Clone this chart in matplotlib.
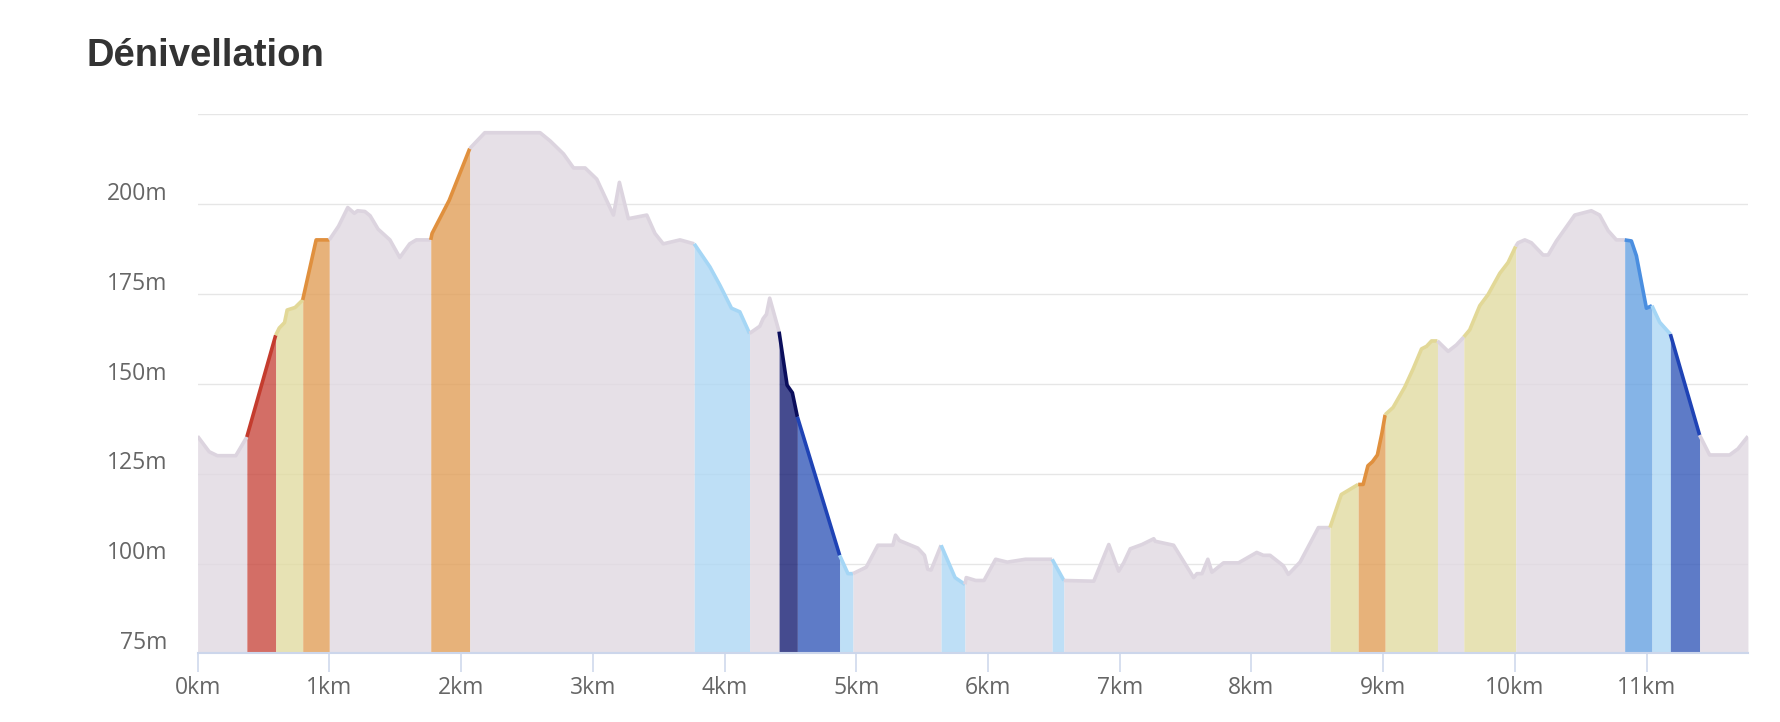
import numpy as np
import matplotlib.pyplot as plt
import matplotlib.transforms as mtransforms

# profil (distance en km, altitude en m)
dist_km = [0.000, 0.088, 0.150, 0.290, 0.374, 0.593, 0.620, 0.660, 0.680, 0.740,
           0.798, 0.900, 1.000, 1.070, 1.140, 1.190, 1.215, 1.270, 1.310, 1.370,
           1.460, 1.535, 1.610, 1.660, 1.770, 1.780, 1.910, 2.066, 2.180, 2.600,
           2.677, 2.778, 2.854, 2.942, 3.030, 3.157, 3.202, 3.270, 3.410, 3.472,
           3.535, 3.662, 3.770, 3.889, 3.965, 4.053, 4.116, 4.190, 4.268, 4.293,
           4.318, 4.343, 4.414, 4.475, 4.515, 4.553, 4.874, 4.937, 4.975, 5.076,
           5.164, 5.278, 5.298, 5.328, 5.467, 5.518, 5.543, 5.568, 5.644, 5.750,
           5.825, 5.835, 5.907, 5.970, 6.058, 6.146, 6.285, 6.487, 6.576, 6.803,
           6.917, 6.992, 7.030, 7.080, 7.169, 7.258, 7.270, 7.409, 7.561, 7.586,
           7.624, 7.669, 7.700, 7.788, 7.902, 8.040, 8.090, 8.141, 8.242, 8.280,
           8.369, 8.508, 8.596, 8.682, 8.810, 8.848, 8.884, 8.918, 8.956, 8.990,
           9.015, 9.075, 9.164, 9.228, 9.291, 9.329, 9.367, 9.412, 9.493, 9.556,
           9.612, 9.657, 9.733, 9.796, 9.885, 9.948, 10.006, 10.024, 10.075, 10.125,
           10.214, 10.252, 10.315, 10.454, 10.580, 10.643, 10.707, 10.770, 10.833, 10.884,
           10.922, 10.998, 11.040, 11.099, 11.180, 11.402, 11.478, 11.630, 11.693, 11.769]
elev_m = [135.4, 131.1, 130.0, 130.0, 135.2, 163.5, 165.5, 167.0, 170.5, 171.2,
          173.3, 190.0, 190.0, 193.8, 199.0, 197.4, 198.1, 197.9, 196.7, 193.0,
          190.0, 185.1, 188.9, 190.0, 190.0, 191.8, 201.0, 215.4, 219.8, 219.8,
          217.5, 213.9, 210.0, 210.0, 206.9, 196.9, 206.0, 195.9, 196.9, 191.8,
          188.9, 190.0, 188.9, 182.5, 177.4, 171.0, 170.0, 164.0, 166.0, 168.1,
          169.3, 173.8, 164.5, 149.6, 147.5, 140.8, 102.3, 97.2, 97.2, 99.0,
          105.1, 105.1, 107.9, 106.4, 104.3, 102.3, 98.4, 98.2, 105.1, 96.1,
          94.2, 96.1, 95.3, 95.3, 101.2, 100.4, 101.2, 101.2, 95.3, 95.1,
          105.3, 97.9, 100.2, 104.1, 105.3, 106.9, 106.2, 105.1, 96.1, 97.2,
          97.2, 101.2, 97.6, 100.2, 100.2, 103.1, 102.3, 102.3, 99.4, 97.0,
          100.4, 110.0, 110.0, 119.2, 122.0, 122.0, 127.2, 128.3, 130.2, 136.2,
          141.4, 143.4, 149.1, 154.2, 159.7, 160.4, 161.9, 161.9, 159.0, 160.8,
          163.0, 165.0, 171.7, 174.8, 180.7, 183.7, 188.2, 189.2, 190.0, 189.2,
          185.8, 185.8, 189.7, 196.9, 198.1, 196.9, 192.6, 190.0, 190.0, 189.7,
          185.6, 171.0, 171.7, 167.1, 163.8, 135.7, 130.2, 130.2, 131.9, 135.4]

# tronçons colorés selon la pente
seg_start = [0.0, 0.374, 0.593, 0.798, 1.0, 1.77, 2.066, 3.77, 4.19, 4.414,
             4.553, 4.874, 4.975, 5.644, 5.825, 6.487, 6.576, 8.596, 8.81, 9.015,
             9.412, 9.612, 10.006, 10.833, 11.04, 11.18, 11.402]
seg_kind = ['plat', 'montee_forte', 'montee_douce', 'montee', 'plat', 'montee', 'plat',
            'descente_douce', 'plat', 'descente_tres_forte', 'descente_forte',
            'descente_douce', 'plat', 'descente_douce', 'plat', 'descente_douce', 'plat',
            'montee_douce', 'montee', 'montee_douce', 'plat', 'montee_douce', 'plat',
            'descente', 'descente_douce', 'descente_forte', 'plat']

x_ticks = list(range(12))
x_tick_labels = [f'{k}km' for k in x_ticks]
y_ticks = [75, 100, 125, 150, 175, 200, 225]
y_tick_labels = ['75m', '100m', '125m', '150m', '175m', '200m', '']

fill_col = {'plat': '#e0d9e2', 'montee_forte': '#c84a40', 'montee_douce': '#e2dba1',
            'montee': '#e29f59', 'descente_douce': '#aed8f4', 'descente': '#67a2e2',
            'descente_forte': '#365aba', 'descente_tres_forte': '#171e73'}
line_col = {'plat': '#dcd4df', 'montee_forte': '#c43c2e', 'montee_douce': '#e2d897',
            'montee': '#e0903e', 'descente_douce': '#a5d6f5', 'descente': '#4a8ee0',
            'descente_forte': '#1f43b5', 'descente_tres_forte': '#0b0e5c'}

x = np.array(dist_km)
y = np.array(elev_m)
ymin = 75

fig = plt.figure(figsize=(17.8, 7.22), dpi=100)
ax = fig.add_axes([0.111, 0.0949, 0.871, 0.7472])

seg_end = seg_start[1:] + [x[-1]]
for s, e, kind in zip(seg_start, seg_end, seg_kind):
    m = (x >= s - 1e-9) & (x <= e + 1e-9)
    ax.fill_between(x[m], y[m], ymin, color=fill_col[kind], alpha=0.8, lw=0, zorder=2)
    ax.plot(x[m], y[m], color=line_col[kind], lw=2.6, zorder=3,
            solid_joinstyle='round', solid_capstyle='butt')

ax.set_xlim(0, x[-1])
ax.set_ylim(ymin, 225)
ax.set_xticks(x_ticks)
ax.set_xticklabels(x_tick_labels)
ax.set_yticks(y_ticks)
ax.set_yticklabels(y_tick_labels)

ax.grid(axis='y', color='#e6e6e6', lw=1.0, zorder=0)
ax.set_axisbelow(True)
for sp in ['left', 'top', 'right']:
    ax.spines[sp].set_visible(False)
ax.spines['bottom'].set_color('#ccd6eb')
ax.spines['bottom'].set_linewidth(1.5)
ax.spines['bottom'].set_zorder(4)

ax.tick_params(axis='x', colors='#ccd6eb', length=14, width=1.1, pad=2,
               labelcolor='#666666', labelsize=16.5)
ax.tick_params(axis='y', length=0, pad=22, labelcolor='#666666', labelsize=16.5)
for lab in ax.get_xticklabels() + ax.get_yticklabels():
    lab.set_family(['Open Sans', 'DejaVu Sans'])
off = mtransforms.ScaledTranslation(0, 3 / 72, fig.dpi_scale_trans)
for lab in ax.get_yticklabels():
    lab.set_va('baseline')
    lab.set_transform(lab.get_transform() + off)

fig.text(0.0487, 0.909, 'Dénivellation', fontsize=27.5, fontweight='bold',
         color='#333333', family=['Liberation Sans', 'DejaVu Sans'], va='baseline')

fig.savefig('out.png', dpi=100)
